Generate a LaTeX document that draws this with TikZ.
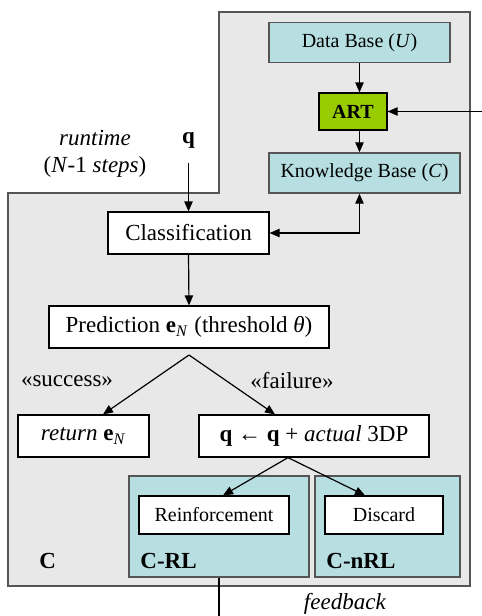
\documentclass[tikz,border=0pt]{standalone}
\usepackage{fontspec}
\setmainfont{Liberation Serif}
\usetikzlibrary{arrows.meta}

\definecolor{bggray}{HTML}{E8E8E8}
\definecolor{kbblue}{HTML}{B7DFE2}
\definecolor{artgreen}{HTML}{99CC00}
\definecolor{rimgray}{HTML}{555555}

\tikzset{
  ahead/.tip={Triangle[length=5pt,width=4.2pt]},
  big/.style={font=\fontsize{11.5}{13}\selectfont},
  small/.style={font=\fontsize{10}{12}\selectfont},
  box/.style={draw,fill=white,line width=0.6pt,inner sep=0pt,big},
  basebox/.style={draw=rimgray,fill=kbblue,line width=0.7pt,inner sep=0pt,small},
  lbl/.style={big,anchor=west,inner sep=0pt},
  link/.style={line width=0.6pt,-ahead},
}

\begin{document}
\begin{tikzpicture}[x=0.5pt,y=-0.5pt]
\useasboundingbox (0,0) rectangle (482,616);
% component C
\draw[draw=rimgray,fill=bggray,line width=0.9pt]
  (219,12) -- (470,12) -- (470,586) -- (8,586) -- (8,193) -- (219,193) -- cycle;

% upper right: bases and ART
\node[basebox,minimum width=90.5pt,minimum height=20pt] (db) at (359.5,42.5) {Data Base (\textit{U})};
\node[draw,fill=artgreen,line width=0.6pt,inner sep=0pt,small,minimum width=34pt,minimum height=18.5pt] (art) at (353,111.5) {\textbf{ART}};
\node[basebox,minimum width=95.5pt,minimum height=20pt] (kb) at (364.5,173) {Knowledge Base (\textit{C})};

% main flow
\node[box,minimum width=80.5pt,minimum height=21pt] (cls) at (188.5,233) {Classification};
\node[box,minimum width=140pt,minimum height=21pt] (pred) at (189,327) {Prediction \textbf{e}\textsubscript{\textit{N}} (threshold \textit{θ})};
\node[box,minimum width=65.5pt,minimum height=21pt] (ret) at (83.5,436) {\textit{return} \textbf{e}\textsubscript{\textit{N}}};
\node[box,minimum width=115pt,minimum height=21pt] (upd) at (314,436) {\textbf{q} ← \textbf{q} + \textit{actual} 3DP};

% C-RL / C-nRL
\node[basebox,minimum width=90pt,minimum height=50.5pt] (crl) at (219,526.5) {};
\node[basebox,minimum width=72.5pt,minimum height=50.5pt] (cnrl) at (387.5,526.5) {};
\node[box,small,minimum width=75pt,minimum height=19pt] (reinf) at (214,515) {Reinforcement};
\node[box,small,minimum width=59pt,minimum height=19pt] (disc) at (384,515) {Discard};

% labels
\node[lbl] (lblc) at (39,561) {\textbf{C}};
\node[lbl] (lblcrl) at (140,561) {\textbf{C-RL}};
\node[lbl] (lblcnrl) at (326,561) {\textbf{C-nRL}};
\node[big] (succ) at (67,381) {«success»};
\node[big] (fail) at (292,381) {«failure»};
\node[big] (rt) at (95,138) {\textit{runtime}};
\node[big] (steps) at (95,167) {(\textit{N}-1 \textit{steps})};
\node[big,anchor=base,inner ysep=7.5pt] (qin) at (188.5,143) {\textbf{q}};
\node[big] (fb) at (345,604) {\textit{feedback}};

\coordinate (split) at (189,355);
\coordinate (fork) at ([xshift=-13pt]upd.south);
\coordinate (fbin) at (482,111.5);
\coordinate (fbout) at (219,616);

% connectors
\draw[link] (db.south) -- (db.south |- art.north);
\draw[link] (db.south |- art.south) -- (db.south |- kb.north);
\draw[link] (fbin) -- (art.east);
\draw[line width=0.6pt,ahead-ahead] (cls.east) -| (db.south |- kb.south);
\draw[link] (qin.south) -- (cls.north);
\draw[link] (cls.south) -- (pred.north);
\draw[link] (split) -- ([xshift=9.75pt]ret.north);
\draw[link] (split) -- ([xshift=-19.5pt]upd.north);
\draw[link] (fork) -- ([xshift=4.5pt]reinf.north);
\draw[link] (fork) -- ([xshift=-9.5pt]disc.north);
\draw[line width=0.6pt] (crl.south) -- (fbout);
\end{tikzpicture}
\end{document}
